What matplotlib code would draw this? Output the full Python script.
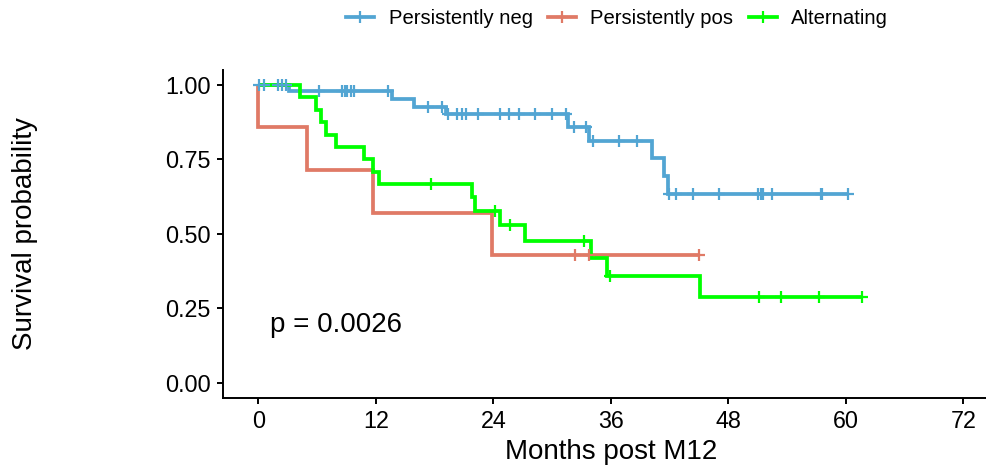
import numpy as np
import matplotlib
matplotlib.use("Agg")
import matplotlib.pyplot as plt
from matplotlib.lines import Line2D

plt.rcParams['font.family'] = ['Liberation Sans', 'DejaVu Sans']

# ---------------- data ----------------
groups = ["Persistently neg", "Persistently pos", "Alternating"]
colors = ["#52A5D3", "#E07A66", "#00FF00"]

# Persistently neg
neg_event_times = [3.1, 13.7, 15.9, 19.2, 31.6, 33.8, 40.2, 41.4, 41.8]
neg_surv = [0.980, 0.951, 0.927, 0.902, 0.857, 0.812, 0.754, 0.694, 0.634]
neg_censor = [0.07, 0.58, 2.0, 2.45, 2.8, 6.2, 8.6, 8.85, 9.1, 9.45, 9.8, 13.2,
              17.3, 18.8, 19.4, 20.25, 20.85, 21.2, 22.4, 24.7, 25.6, 26.65,
              28.3, 30.05, 31.45, 32.2, 33.5, 34.2, 36.8, 38.7, 41.9, 42.7,
              44.45, 47.1, 51.0, 51.3, 51.5, 52.45, 57.5, 57.6, 60.25]
neg_end = 60.25

# Persistently pos
pos_event_times = [0.0, 5.0, 11.75, 23.9]
pos_surv = [0.857, 0.714, 0.571, 0.429]
pos_censor = [32.3, 33.8, 45.0]
pos_end = 45.0

# Alternating
alt_event_times = [4.3, 5.9, 6.4, 6.9, 7.9, 10.8, 11.7, 12.3, 21.8, 22.1,
                   24.65, 27.2, 34.0, 35.6, 45.1]
alt_surv = [0.958, 0.917, 0.875, 0.833, 0.792, 0.750, 0.708, 0.667, 0.622,
            0.578, 0.530, 0.477, 0.417, 0.358, 0.286]
alt_censor = [17.6, 24.2, 25.7, 33.3, 35.9, 51.1, 53.4, 57.3, 61.7]
alt_end = 61.7

pval_text = "p = 0.0026"
x_ticks = [0, 12, 24, 36, 48, 60, 72]
y_ticks = [0.00, 0.25, 0.50, 0.75, 1.00]
x_label = "Months post M12"
y_label = "Survival probability"

series = [
    (neg_event_times, neg_surv, neg_censor, neg_end),
    (pos_event_times, pos_surv, pos_censor, pos_end),
    (alt_event_times, alt_surv, alt_censor, alt_end),
]

# ---------------- figure ----------------
W, H, DPI = 987, 466, 100
fig = plt.figure(figsize=(W / DPI, H / DPI), dpi=DPI)
ax = fig.add_axes([223 / W, 1 - 397.5 / H, (998.5 - 223) / W, (397.5 - 70) / H])

lw = 2.7
for (et, sv, cs, end), col, name in zip(series, colors, groups):
    xs = np.concatenate([[0.0], et, [end]])
    ys = np.concatenate([[1.0], sv, [sv[-1]]])
    ax.step(xs, ys, where="post", color=col, lw=lw, solid_joinstyle="miter",
            solid_capstyle="butt", zorder=2)
    et_arr = np.asarray(et)
    cy = []
    for c in cs:
        idx = np.searchsorted(et_arr, c, side="right") - 1
        cy.append(1.0 if idx < 0 else sv[idx])
    ax.plot(cs, cy, linestyle="none", marker="+", markersize=8.5,
            markeredgewidth=1.6, color=col, zorder=3)

ax.set_xlim(-3.6, 75.6)
ax.set_ylim(-0.05, 1.05)
ax.set_xticks(x_ticks)
ax.set_xticklabels([str(t) for t in x_ticks])
ax.set_yticks(y_ticks)
ax.set_yticklabels([f"{t:.2f}" for t in y_ticks])

for s in ["top", "right"]:
    ax.spines[s].set_visible(False)
for s in ["left", "bottom"]:
    ax.spines[s].set_linewidth(1.4)
    ax.spines[s].set_color("black")
ax.tick_params(axis="both", length=4.5, width=1.4, color="black",
               labelsize=16.8, labelcolor="black", pad=4.5)

ax.set_xlabel(x_label, fontsize=20, labelpad=4)
fig.text(25 / W, 1 - 234 / H, y_label, fontsize=20, rotation=90,
         ha="center", va="center")

ax.text(1.2, 0.195, pval_text, fontsize=20, ha="left", va="center")

handles = [Line2D([0], [0], color=c, lw=lw, marker="+", markersize=8.5,
                  markeredgewidth=1.6) for c in colors]
fig.legend(handles, groups, loc="center", bbox_to_anchor=(617 / W, 1 - 19 / H),
           ncol=3, frameon=False, fontsize=14.6, handlelength=1.4,
           handletextpad=0.7, columnspacing=0.75, borderaxespad=0,
           borderpad=0)

fig.savefig("out.png", dpi=DPI)
